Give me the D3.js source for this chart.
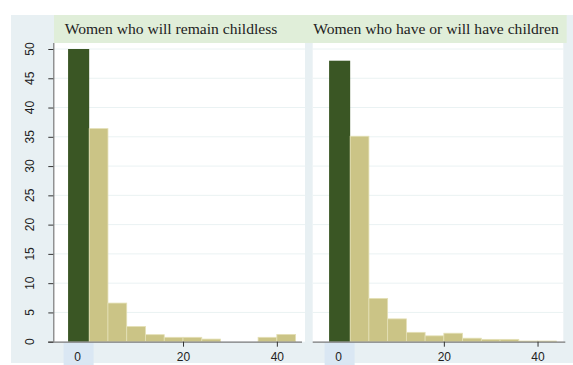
<!DOCTYPE html>
<html>
<head>
<meta charset="utf-8">
<script src="https://cdn.jsdelivr.net/npm/d3@7"></script>
<style>
  html, body { margin: 0; padding: 0; background: #ffffff; }
  svg { display: block; }
</style>
</head>
<body>
<svg id="chart" width="573" height="365"></svg>
<script>
// Panel titles
const panelTitles = ["Women who will remain childless", "Women who have or will have children"];

// Share (%) reporting zero, drawn as the dark bar at the "0" category
const zeroShares = [50, 48];
const zeroBarRange = [-4.5, 0];

// Histogram bins (left edges, width 4) for the non-zero values
const binStarts = [0, 4, 8, 12, 16, 20, 24, 28, 32, 36, 40];
const binWidth = 4;
const childlessShares = [36.4, 6.6, 2.6, 1.2, 0.75, 0.75, 0.45, 0, 0, 0.75, 1.25];
const parentShares    = [35.1, 7.4, 3.9, 1.6, 1.0, 1.45, 0.6, 0.4, 0.4, 0.12, 0.12];

// Axis ticks
const yTicks = [0, 5, 10, 15, 20, 25, 30, 35, 40, 45, 50];
const xTicks = [20, 40];
const zeroLabel = "0";

const colors = {
  outer: "#e8f0f3",
  strip: "#e0eed9",
  plot: "#ffffff",
  grid: "#eaf2f3",
  axis: "#7a7a7a",
  zeroBar: "#3a5624",
  bins: "#cbc486",
  binStroke: "#e4e0b6",
  zeroBox: "#dae7f3",
  text: "#222222"
};

const svg = d3.select("#chart");

// Outer background and the title strip across both panels
svg.append("rect").attr("x", 11).attr("y", 15).attr("width", 562).attr("height", 348)
  .attr("fill", colors.outer);
svg.append("rect").attr("x", 54).attr("y", 15).attr("width", 512.7).attr("height", 28)
  .attr("fill", colors.strip);

const y = d3.scaleLinear().domain([0, 50]).range([341.7, 49]);

const panels = [
  { title: panelTitles[0], titleX: 171, left: 54, right: 305, domain: [-7.5, 46], zero: zeroShares[0], shares: childlessShares, yAxis: true },
  { title: panelTitles[1], titleX: 436, left: 312.7, right: 563.3, domain: [-8, 45.5], zero: zeroShares[1], shares: parentShares, yAxis: false }
];

panels.forEach(p => {
  const x = d3.scaleLinear().domain(p.domain).range([p.left, p.right]);
  const g = svg.append("g");

  // plot region
  g.append("rect").attr("x", p.left).attr("y", 43).attr("width", p.right - p.left).attr("height", y(0) - 43)
    .attr("fill", colors.plot);

  // title
  g.append("text").attr("x", p.titleX).attr("y", 34)
    .attr("text-anchor", "middle")
    .attr("font-family", "'Liberation Serif', 'Times New Roman', serif")
    .attr("font-size", 15.6)
    .attr("fill", colors.text)
    .text(p.title);

  // horizontal gridlines
  g.selectAll("line.grid").data(yTicks.filter(d => d > 0)).join("line")
    .attr("class", "grid")
    .attr("x1", p.left).attr("x2", p.right)
    .attr("y1", d => y(d)).attr("y2", d => y(d))
    .attr("stroke", colors.grid).attr("stroke-width", 1);

  // highlighted "0" category box under the axis
  const zc = (x(zeroBarRange[0]) + x(zeroBarRange[1])) / 2;
  g.append("rect").attr("x", zc - 15).attr("y", y(0) + 0.5).attr("width", 30).attr("height", 365 - y(0))
    .attr("fill", colors.zeroBox);

  // dark bar at zero
  g.append("rect")
    .attr("x", x(zeroBarRange[0])).attr("width", x(zeroBarRange[1]) - x(zeroBarRange[0]))
    .attr("y", y(p.zero)).attr("height", y(0) - y(p.zero))
    .attr("fill", colors.zeroBar);

  // histogram bins
  g.selectAll("rect.bin").data(binStarts.map((s, i) => ({ s, v: p.shares[i] })).filter(d => d.v > 0)).join("rect")
    .attr("class", "bin")
    .attr("x", d => x(d.s)).attr("width", d => x(d.s + binWidth) - x(d.s))
    .attr("y", d => y(d.v)).attr("height", d => y(0) - y(d.v))
    .attr("fill", colors.bins)
    .attr("stroke", colors.binStroke).attr("stroke-width", 0.8);

  // x axis
  const xAxis = d3.axisBottom(x).tickValues(xTicks).tickSize(5).tickPadding(5).tickSizeOuter(0);
  const ax = g.append("g").attr("transform", `translate(0,${y(0)})`).call(xAxis);
  ax.select(".domain").attr("d", `M${p.yAxis ? p.left - 6 : p.left},0.5H${p.right + (p.yAxis ? -3 : 2)}`)
    .attr("stroke", colors.axis).attr("stroke-width", 1.2);
  ax.selectAll(".tick line").attr("stroke", "#333");
  ax.selectAll(".tick text")
    .attr("font-family", "'Liberation Sans', Arial, sans-serif")
    .attr("font-size", 12).attr("fill", colors.text)
    .attr("dy", null).attr("y", 19.3);

  // "0" category label, centred on the dark bar
  g.append("text").attr("x", zc - 1).attr("y", y(0) + 19.3)
    .attr("text-anchor", "middle")
    .attr("font-family", "'Liberation Sans', Arial, sans-serif")
    .attr("font-size", 12).attr("fill", colors.text)
    .text(zeroLabel);

  if (p.yAxis) {
    const yAxis = d3.axisLeft(y).tickValues(yTicks).tickSize(5).tickSizeOuter(0);
    const ay = g.append("g").attr("transform", `translate(${p.left - 0.7},0)`).call(yAxis);
    ay.select(".domain").attr("d", `M0.5,${43}V${y(0)}`)
      .attr("stroke", colors.axis).attr("stroke-width", 1.2);
    ay.selectAll(".tick line").attr("stroke", "#333");
    ay.selectAll(".tick text").remove();
    g.selectAll("text.ylab").data(yTicks).join("text")
      .attr("class", "ylab")
      .attr("transform", d => `translate(34,${y(d)}) rotate(-90)`)
      .attr("text-anchor", "middle")
      .attr("font-family", "'Liberation Sans', Arial, sans-serif")
      .attr("font-size", 12).attr("fill", colors.text)
      .text(d => d);
  }
});
</script>
</body>
</html>
